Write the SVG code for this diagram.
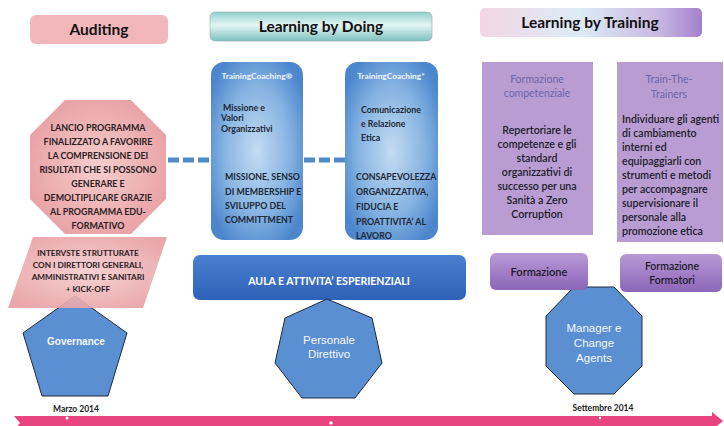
<svg xmlns="http://www.w3.org/2000/svg" width="724" height="426" viewBox="0 0 724 426">
<defs>
<style>
.cal{font-family:Lato,"Open Sans","Liberation Sans",sans-serif}
.ar{font-family:"Liberation Sans",Arial,sans-serif}
.title{font-weight:700;font-size:15.5px;fill:#111;text-anchor:middle}
.cap{font-weight:700;font-size:8.9px;fill:#2a2020;text-anchor:middle}
.blu{font-weight:700;font-size:8.8px;fill:#1d2735}
.wsm{font-weight:700;font-size:8.4px;fill:#eef5fc;text-anchor:middle}
.pur{font-size:10.5px;fill:#6b64ad;text-anchor:middle}
.pb{font-weight:600;font-size:10.6px;fill:#221a2a}
.wh{font-size:11.5px;fill:#f4f8fc;text-anchor:middle}
.date{font-weight:700;font-size:8.5px;fill:#222;text-anchor:middle}
.poly{fill:#5a8fd2;stroke:#1f2a3a;stroke-width:1}
</style>
<linearGradient id="gDoing" x1="0" y1="0" x2="0" y2="1">
<stop offset="0" stop-color="#8fcfcc"/><stop offset="0.45" stop-color="#e4f5f4"/><stop offset="1" stop-color="#7cc2bf"/>
</linearGradient>
<linearGradient id="gTrain" x1="0" y1="0" x2="1" y2="0">
<stop offset="0" stop-color="#f3d6e3"/><stop offset="0.45" stop-color="#dcebf7"/><stop offset="0.8" stop-color="#c9b8e2"/><stop offset="1" stop-color="#a481cc"/>
</linearGradient>
<radialGradient id="gBlue" cx="0.5" cy="0.5" r="0.6">
<stop offset="0" stop-color="#c3dcf2"/><stop offset="0.6" stop-color="#86b3e2"/><stop offset="1" stop-color="#4c86cc"/>
</radialGradient>
<linearGradient id="gAula" x1="0" y1="0" x2="0" y2="1">
<stop offset="0" stop-color="#4a7fd0"/><stop offset="1" stop-color="#2f62b8"/>
</linearGradient>
<radialGradient id="gPink" cx="0.5" cy="0.5" r="0.6">
<stop offset="0" stop-color="#f6cdcd"/><stop offset="1" stop-color="#e79ea2"/>
</radialGradient>
<linearGradient id="gBtn" x1="0" y1="0" x2="0" y2="1">
<stop offset="0" stop-color="#b89ad6"/><stop offset="1" stop-color="#8d65b8"/>
</linearGradient>
</defs>
<rect width="724" height="426" fill="#ffffff"/>

<g id="connectors">
<line x1="168" y1="160" x2="211" y2="160" stroke="#4f8bc9" stroke-width="5" stroke-dasharray="11 4"/>
<line x1="304" y1="160" x2="345" y2="160" stroke="#4f8bc9" stroke-width="5" stroke-dasharray="11 4"/>
</g>

<g id="auditing">
<rect x="30" y="15" width="138" height="29" rx="6" fill="#f2b7ba"/>
<text class="cal title" x="99" y="35">Auditing</text>
</g>
<g id="learning-doing">
<rect x="210" y="12" width="222" height="29" rx="5" fill="url(#gDoing)" stroke="#9aa" stroke-width="0.6"/>
<text class="cal title" x="321" y="32">Learning by Doing</text>
</g>
<g id="learning-training">
<rect x="480" y="8" width="222" height="29" rx="5" fill="url(#gTrain)"/>
<text class="cal title" x="590" y="28">Learning by Training</text>
</g>

<g id="lancio">
<polygon points="65,100 131,100 166,135 166,199 131,234 65,234 30,199 30,135" fill="url(#gPink)"/>
<text class="cal cap" x="98" y="131">LANCIO PROGRAMMA</text>
<text class="cal cap" x="98" y="145">FINALIZZATO A FAVORIRE</text>
<text class="cal cap" x="98" y="159">LA COMPRENSIONE DEI</text>
<text class="cal cap" x="98" y="173">RISULTATI CHE SI POSSONO</text>
<text class="cal cap" x="98" y="187">GENERARE E</text>
<text class="cal cap" x="98" y="201">DEMOLTIPLICARE GRAZIE</text>
<text class="cal cap" x="98" y="215">AL PROGRAMMA EDU-</text>
<text class="cal cap" x="98" y="229">FORMATIVO</text>
</g>

<g id="governance">
<polygon class="poly" points="75,296 127,333 108,396 42,396 23,333"/>
<text class="ar wh" x="76" y="345" style="font-size:10px;font-weight:700">Governance</text>
</g>

<g id="interviste">
<polygon points="33,237 167,237 143,308 8,308" fill="url(#gPink)" opacity="0.9"/>
<text class="cal cap" x="88" y="256" style="font-size:8.2px">INTERVSTE STRUTTURATE</text>
<text class="cal cap" x="88" y="268" style="font-size:8.2px">CON I DIRETTORI GENERALI,</text>
<text class="cal cap" x="88" y="280" style="font-size:8.2px">AMMINISTRATIVI E SANITARI</text>
<text class="cal cap" x="88" y="292" style="font-size:8.2px">+ KICK-OFF</text>
</g>

<g id="tc1">
<rect x="211" y="62" width="92" height="178" rx="13" fill="url(#gBlue)"/>
<text class="cal wsm" x="257" y="79">TrainingCoaching®</text>
<text class="cal blu" x="223" y="111">Missione e</text>
<text class="cal blu" x="221" y="121">Valori</text>
<text class="cal blu" x="221" y="132">Organizzativi</text>
<text class="cal blu" x="225" y="180">MISSIONE, SENSO</text>
<text class="cal blu" x="225" y="195">DI MEMBERSHIP E</text>
<text class="cal blu" x="225" y="209">SVILUPPO DEL</text>
<text class="cal blu" x="225" y="223">COMMITTMENT</text>
</g>

<g id="tc2">
<rect x="345" y="62" width="93" height="178" rx="13" fill="url(#gBlue)"/>
<text class="cal wsm" x="391" y="79">TrainingCoaching*</text>
<text class="cal blu" x="361" y="113">Comunicazione</text>
<text class="cal blu" x="361" y="127">e Relazione</text>
<text class="cal blu" x="361" y="141">Etica</text>
<text class="cal blu" x="356" y="180">CONSAPEVOLEZZA</text>
<text class="cal blu" x="356" y="195">ORGANIZZATIVA,</text>
<text class="cal blu" x="356" y="210">FIDUCIA E</text>
<text class="cal blu" x="356" y="225">PROATTIVITA’ AL</text>
<text class="cal blu" x="356" y="239">LAVORO</text>
</g>

<g id="aula">
<rect x="193" y="255" width="273" height="45" rx="7" fill="url(#gAula)"/>
<text class="cal" x="329" y="285" style="font-weight:700;font-size:10.5px;fill:#fff;text-anchor:middle">AULA E ATTIVITA’ ESPERIENZIALI</text>
</g>

<g id="personale">
<polygon class="poly" points="327,299 372,318 382,363 355,398 302,398 275,363 285,318"/>
<text class="ar wh" x="329" y="344">Personale</text>
<text class="ar wh" x="329" y="358">Direttivo</text>
</g>

<g id="formazione-competenziale">
<rect x="482" y="62" width="111" height="173" fill="#b99dd2"/>
<text class="cal pur" x="537" y="83">Formazione</text>
<text class="cal pur" x="537" y="97">competenziale</text>
<text class="cal pb" x="537" y="134" text-anchor="middle">Repertoriare le</text>
<text class="cal pb" x="537" y="148" text-anchor="middle">competenze e gli</text>
<text class="cal pb" x="537" y="162" text-anchor="middle">standard</text>
<text class="cal pb" x="537" y="176" text-anchor="middle">organizzativi di</text>
<text class="cal pb" x="537" y="190" text-anchor="middle">successo per una</text>
<text class="cal pb" x="537" y="204" text-anchor="middle">Sanità a Zero</text>
<text class="cal pb" x="537" y="218" text-anchor="middle">Corruption</text>
</g>

<g id="train-the-trainers">
<rect x="617" y="62" width="106" height="180" fill="#b99dd2"/>
<text class="cal pur" x="669" y="83">Train-The-</text>
<text class="cal pur" x="669" y="98">Trainers</text>
<text class="cal pb" x="622" y="123">Individuare gli agenti</text>
<text class="cal pb" x="622" y="137">di cambiamento</text>
<text class="cal pb" x="622" y="151">interni ed</text>
<text class="cal pb" x="622" y="165">equipaggiarli con</text>
<text class="cal pb" x="622" y="179">strumenti e metodi</text>
<text class="cal pb" x="622" y="193">per accompagnare</text>
<text class="cal pb" x="622" y="207">supervisionare il</text>
<text class="cal pb" x="622" y="221">personale alla</text>
<text class="cal pb" x="622" y="235">promozione etica</text>
</g>

<g id="manager">
<polygon class="poly" points="574,287 614,287 642,316 642,366 614,394 574,394 546,366 546,316"/>
<text class="ar wh" x="594" y="332">Manager e</text>
<text class="ar wh" x="594" y="347">Change</text>
<text class="ar wh" x="594" y="362">Agents</text>
</g>

<g id="formazione">
<rect x="490" y="253" width="98" height="37" rx="6" fill="url(#gBtn)"/>
<text class="cal" x="539" y="276" style="font-weight:600;font-size:11px;fill:#221a2a;text-anchor:middle">Formazione</text>
</g>
<g id="formazione-formatori">
<rect x="620" y="254" width="102" height="38" rx="6" fill="url(#gBtn)"/>
<text class="cal" x="672" y="270" style="font-weight:600;font-size:10.5px;fill:#221a2a;text-anchor:middle">Formazione</text>
<text class="cal" x="672" y="284" style="font-weight:600;font-size:10.5px;fill:#221a2a;text-anchor:middle">Formatori</text>
</g>

<g id="timeline">
<polygon points="14,416 712,416 712,412 723,421 712,430 14,430 20,423" fill="#e8457f"/>
<circle cx="67" cy="418" r="1.5" fill="#fff"/>
<circle cx="331" cy="423" r="1.8" fill="#fff"/>
<circle cx="600" cy="418" r="1.2" fill="#fff"/>
<text class="cal date" x="76" y="412">Marzo 2014</text>
<text class="cal date" x="603" y="411">Settembre 2014</text>
</g>
</svg>
